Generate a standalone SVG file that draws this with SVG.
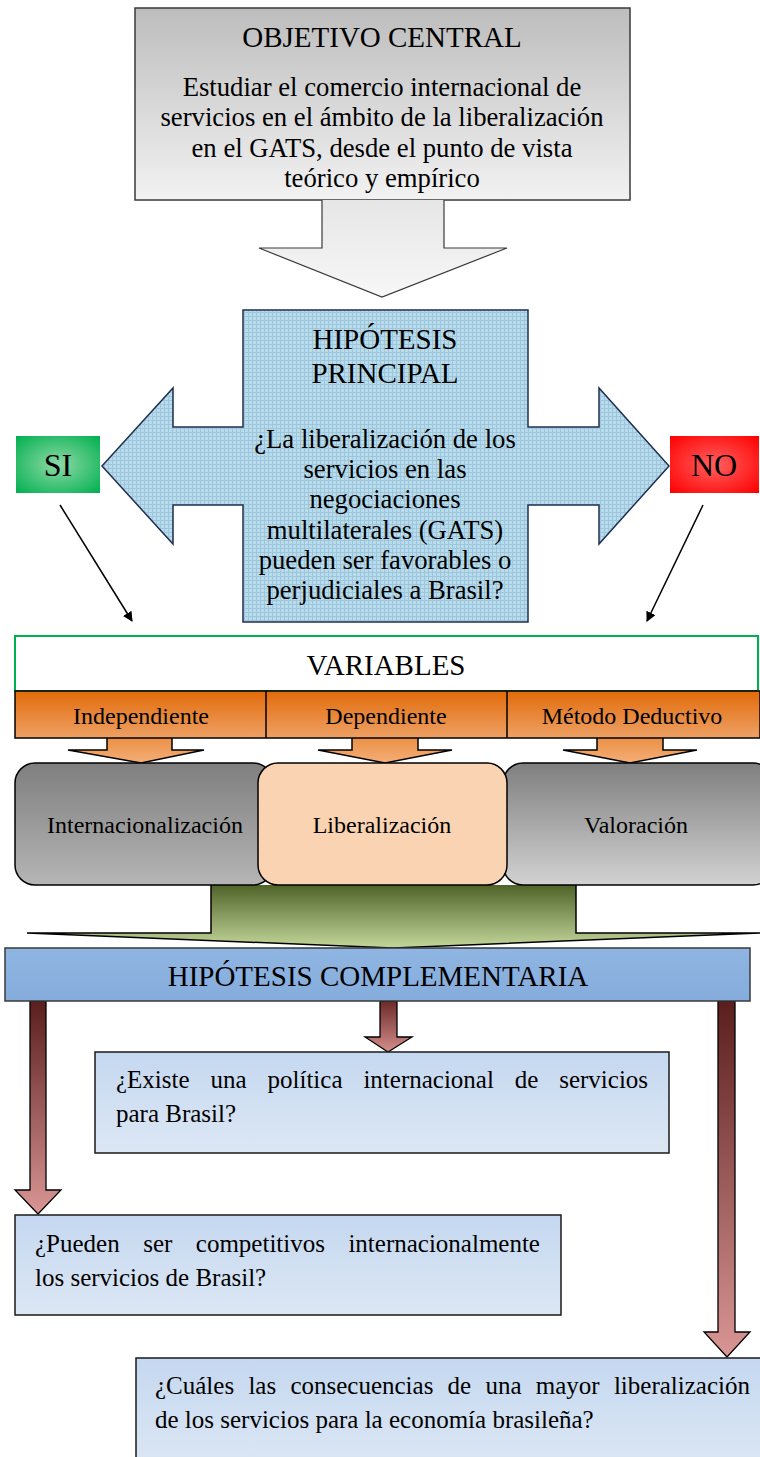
<svg xmlns="http://www.w3.org/2000/svg" width="760" height="1457" viewBox="0 0 760 1457">
<style>
text{font-family:"Liberation Serif","Times New Roman",serif;fill:#000}
.h{font-size:29px;text-anchor:middle}
.b{font-size:26.7px;text-anchor:middle}
.l{font-size:24px;text-anchor:middle}
.sn{font-size:32px;text-anchor:middle}
.q{font-size:25px}
</style>
<defs>
<linearGradient id="gTop" x1="0" y1="0" x2="0" y2="1"><stop offset="0" stop-color="#bdbdbd"/><stop offset="1" stop-color="#f2f2f2"/></linearGradient>
<linearGradient id="gDown" x1="0" y1="0" x2="0" y2="1"><stop offset="0" stop-color="#e6e6e6"/><stop offset="1" stop-color="#f7f7f7"/></linearGradient>
<pattern id="grid" width="4" height="4" patternUnits="userSpaceOnUse"><rect width="4" height="4" fill="#b9dcec"/><path d="M0,0.5H4M0.5,0V4" stroke="#9dc6dc" stroke-width="1"/></pattern>
<radialGradient id="gSi" cx="0.5" cy="0.5" r="0.7"><stop offset="0" stop-color="#8fd9a6"/><stop offset="1" stop-color="#00b050"/></radialGradient>
<radialGradient id="gNo" cx="0.5" cy="0.5" r="0.7"><stop offset="0" stop-color="#ff6060"/><stop offset="1" stop-color="#ff0000"/></radialGradient>
<linearGradient id="gOr" x1="0" y1="0" x2="0" y2="1"><stop offset="0" stop-color="#e26b0a"/><stop offset="1" stop-color="#eea165"/></linearGradient>
<linearGradient id="gOrA" x1="0" y1="0" x2="0" y2="1"><stop offset="0" stop-color="#ec9146"/><stop offset="1" stop-color="#f3ae78"/></linearGradient>
<linearGradient id="gGrayL" x1="0" y1="0" x2="0" y2="1"><stop offset="0" stop-color="#7f7f7f"/><stop offset="1" stop-color="#b5b5b5"/></linearGradient>
<linearGradient id="gGrayR" x1="0" y1="0" x2="0" y2="1"><stop offset="0" stop-color="#7f7f7f"/><stop offset="1" stop-color="#d2d2d2"/></linearGradient>
<linearGradient id="gGreen" x1="0" y1="0" x2="0" y2="1"><stop offset="0" stop-color="#4f6228"/><stop offset="1" stop-color="#c4d79b"/></linearGradient>
<linearGradient id="gComp" x1="0" y1="0" x2="0" y2="1"><stop offset="0" stop-color="#8fb5e3"/><stop offset="1" stop-color="#86acdb"/></linearGradient>
<linearGradient id="gRed" x1="0" y1="0" x2="0" y2="1"><stop offset="0" stop-color="#5a1e1d"/><stop offset="1" stop-color="#d99694"/></linearGradient>
<linearGradient id="gRedS" x1="0" y1="0" x2="0" y2="1"><stop offset="0" stop-color="#6b2a28"/><stop offset="1" stop-color="#d58e8c"/></linearGradient>
<linearGradient id="gQ" x1="0" y1="0" x2="0" y2="1"><stop offset="0" stop-color="#c5d8f0"/><stop offset="1" stop-color="#dce7f4"/></linearGradient>
<marker id="ah" viewBox="0 0 10 10" refX="9" refY="5" markerWidth="10" markerHeight="10" markerUnits="userSpaceOnUse" orient="auto"><path d="M0,0L10,5L0,10Z" fill="#000"/></marker>
</defs>

<g id="objetivo">
<rect x="135" y="8" width="495" height="192" fill="url(#gTop)" stroke="#3a3a3a" stroke-width="1.5"/>
<text class="h" x="382" y="47">OBJETIVO CENTRAL</text>
<text class="b" x="382" y="96">Estudiar el comercio internacional de</text>
<text class="b" x="382" y="126">servicios en el ámbito de la liberalización</text>
<text class="b" x="382" y="157">en el GATS, desde el punto de vista</text>
<text class="b" x="382" y="187">teórico y empírico</text>
</g>

<g id="connectors">
<path d="M322,200V248H259L382,297L507,248H444V200" fill="url(#gDown)" stroke="#3a3a3a" stroke-width="1.2"/>
<line x1="60" y1="505" x2="132" y2="621" stroke="#000" stroke-width="1.5" marker-end="url(#ah)"/>
<line x1="703" y1="505" x2="647" y2="621" stroke="#000" stroke-width="1.5" marker-end="url(#ah)"/>
<path d="M107,738V750H68L141,763L204,750H172V738" fill="url(#gOrA)" stroke="#000" stroke-width="1.5"/>
<path d="M352,738V750H318L385,763L452,750H418V738" fill="url(#gOrA)" stroke="#000" stroke-width="1.5"/>
<path d="M597,738V750H563L630,763L697,750H663V738" fill="url(#gOrA)" stroke="#000" stroke-width="1.5"/>
<path d="M211,885V933H27L393,948L760,933H576V885" fill="url(#gGreen)" stroke="#000" stroke-width="1.5"/>
<path d="M30,1001V1190H15L38,1214L61,1190H46V1001Z" fill="url(#gRed)" stroke="#000" stroke-width="1.3"/>
<path d="M380,1001V1037H365L388,1052L412,1037H397V1001Z" fill="url(#gRedS)" stroke="#000" stroke-width="1.3"/>
<path d="M718,1001V1332H704L727,1357L750,1332H735V1001Z" fill="url(#gRed)" stroke="#000" stroke-width="1.3"/>
</g>

<g id="hipotesis">
<path d="M243,310H528V427H599V388L669,466L599,544V505H528V622H243V505H173V544L102,466L173,388V427H243Z" fill="url(#grid)" stroke="#1f2f4f" stroke-width="1.5"/>
<text class="h" x="385" y="349">HIPÓTESIS</text>
<text class="h" x="385" y="383">PRINCIPAL</text>
<text class="b" x="385" y="448">¿La liberalización de los</text>
<text class="b" x="385" y="478">servicios en las</text>
<text class="b" x="385" y="508">negociaciones</text>
<text class="b" x="385" y="539">multilaterales (GATS)</text>
<text class="b" x="385" y="569">pueden ser favorables o</text>
<text class="b" x="385" y="599">perjudiciales a Brasil?</text>
</g>

<g id="si">
<rect x="16" y="436" width="84" height="57" fill="url(#gSi)"/>
<text class="sn" x="58" y="476">SI</text>
</g>
<g id="no">
<rect x="670" y="436" width="89" height="57" fill="url(#gNo)"/>
<text class="sn" x="714" y="476">NO</text>
</g>

<g id="variables">
<rect x="15" y="636" width="743" height="55" fill="#fff" stroke="#00b050" stroke-width="2"/>
<text class="h" x="386" y="675">VARIABLES</text>
</g>
<g id="var-row">
<rect x="15" y="691" width="745" height="47" fill="url(#gOr)" stroke="#000" stroke-width="1.5"/>
<line x1="266" y1="691" x2="266" y2="738" stroke="#000" stroke-width="1.5"/>
<line x1="507" y1="691" x2="507" y2="738" stroke="#000" stroke-width="1.5"/>
<text class="l" x="141" y="724">Independiente</text>
<text class="l" x="386" y="724">Dependiente</text>
<text class="l" x="632" y="724">Método Deductivo</text>
</g>

<g id="internacionalizacion">
<rect x="15" y="763" width="258" height="122" rx="20" fill="url(#gGrayL)" stroke="#000" stroke-width="1.5"/>
<text class="l" x="145" y="833">Internacionalización</text>
</g>
<g id="valoracion">
<rect x="503" y="763" width="270" height="122" rx="20" fill="url(#gGrayR)" stroke="#000" stroke-width="1.5"/>
<text class="l" x="636" y="833">Valoración</text>
</g>
<g id="liberalizacion">
<rect x="258" y="763" width="249" height="122" rx="20" fill="#fad3b3" stroke="#000" stroke-width="1.5"/>
<text class="l" x="382" y="833">Liberalización</text>
</g>

<g id="complementaria">
<rect x="5" y="948" width="745" height="53" fill="url(#gComp)" stroke="#3a3a3a" stroke-width="1.5"/>
<text class="h" x="378" y="986">HIPÓTESIS COMPLEMENTARIA</text>
</g>

<g id="q1">
<rect x="95" y="1052" width="574" height="101" fill="url(#gQ)" stroke="#1a1a1a" stroke-width="1.5"/>
<text class="q" y="1088"><tspan x="116">¿Existe</tspan><tspan x="210.5">una</tspan><tspan x="267.5">política</tspan><tspan x="363.4">internacional</tspan><tspan x="514.7">de</tspan><tspan x="559.2">servicios</tspan></text>
<text class="q" x="116" y="1122">para Brasil?</text>
</g>
<g id="q2">
<rect x="15" y="1215" width="546" height="100" fill="url(#gQ)" stroke="#1a1a1a" stroke-width="1.5"/>
<text class="q" y="1252"><tspan x="35">¿Pueden</tspan><tspan x="143.2">ser</tspan><tspan x="195.8">competitivos</tspan><tspan x="348.4">internacionalmente</tspan></text>
<text class="q" x="35" y="1286">los servicios de Brasil?</text>
</g>
<g id="q3">
<rect x="136" y="1358" width="630" height="110" fill="url(#gQ)" stroke="#1a1a1a" stroke-width="1.5"/>
<text class="q" y="1394"><tspan x="155">¿Cuáles</tspan><tspan x="248.4">las</tspan><tspan x="290.4">consecuencias</tspan><tspan x="447.6">de</tspan><tspan x="485.4">una</tspan><tspan x="535.8">mayor</tspan><tspan x="613.9">liberalización</tspan></text>
<text class="q" x="155" y="1428">de los servicios para la economía brasileña?</text>
</g>
</svg>
